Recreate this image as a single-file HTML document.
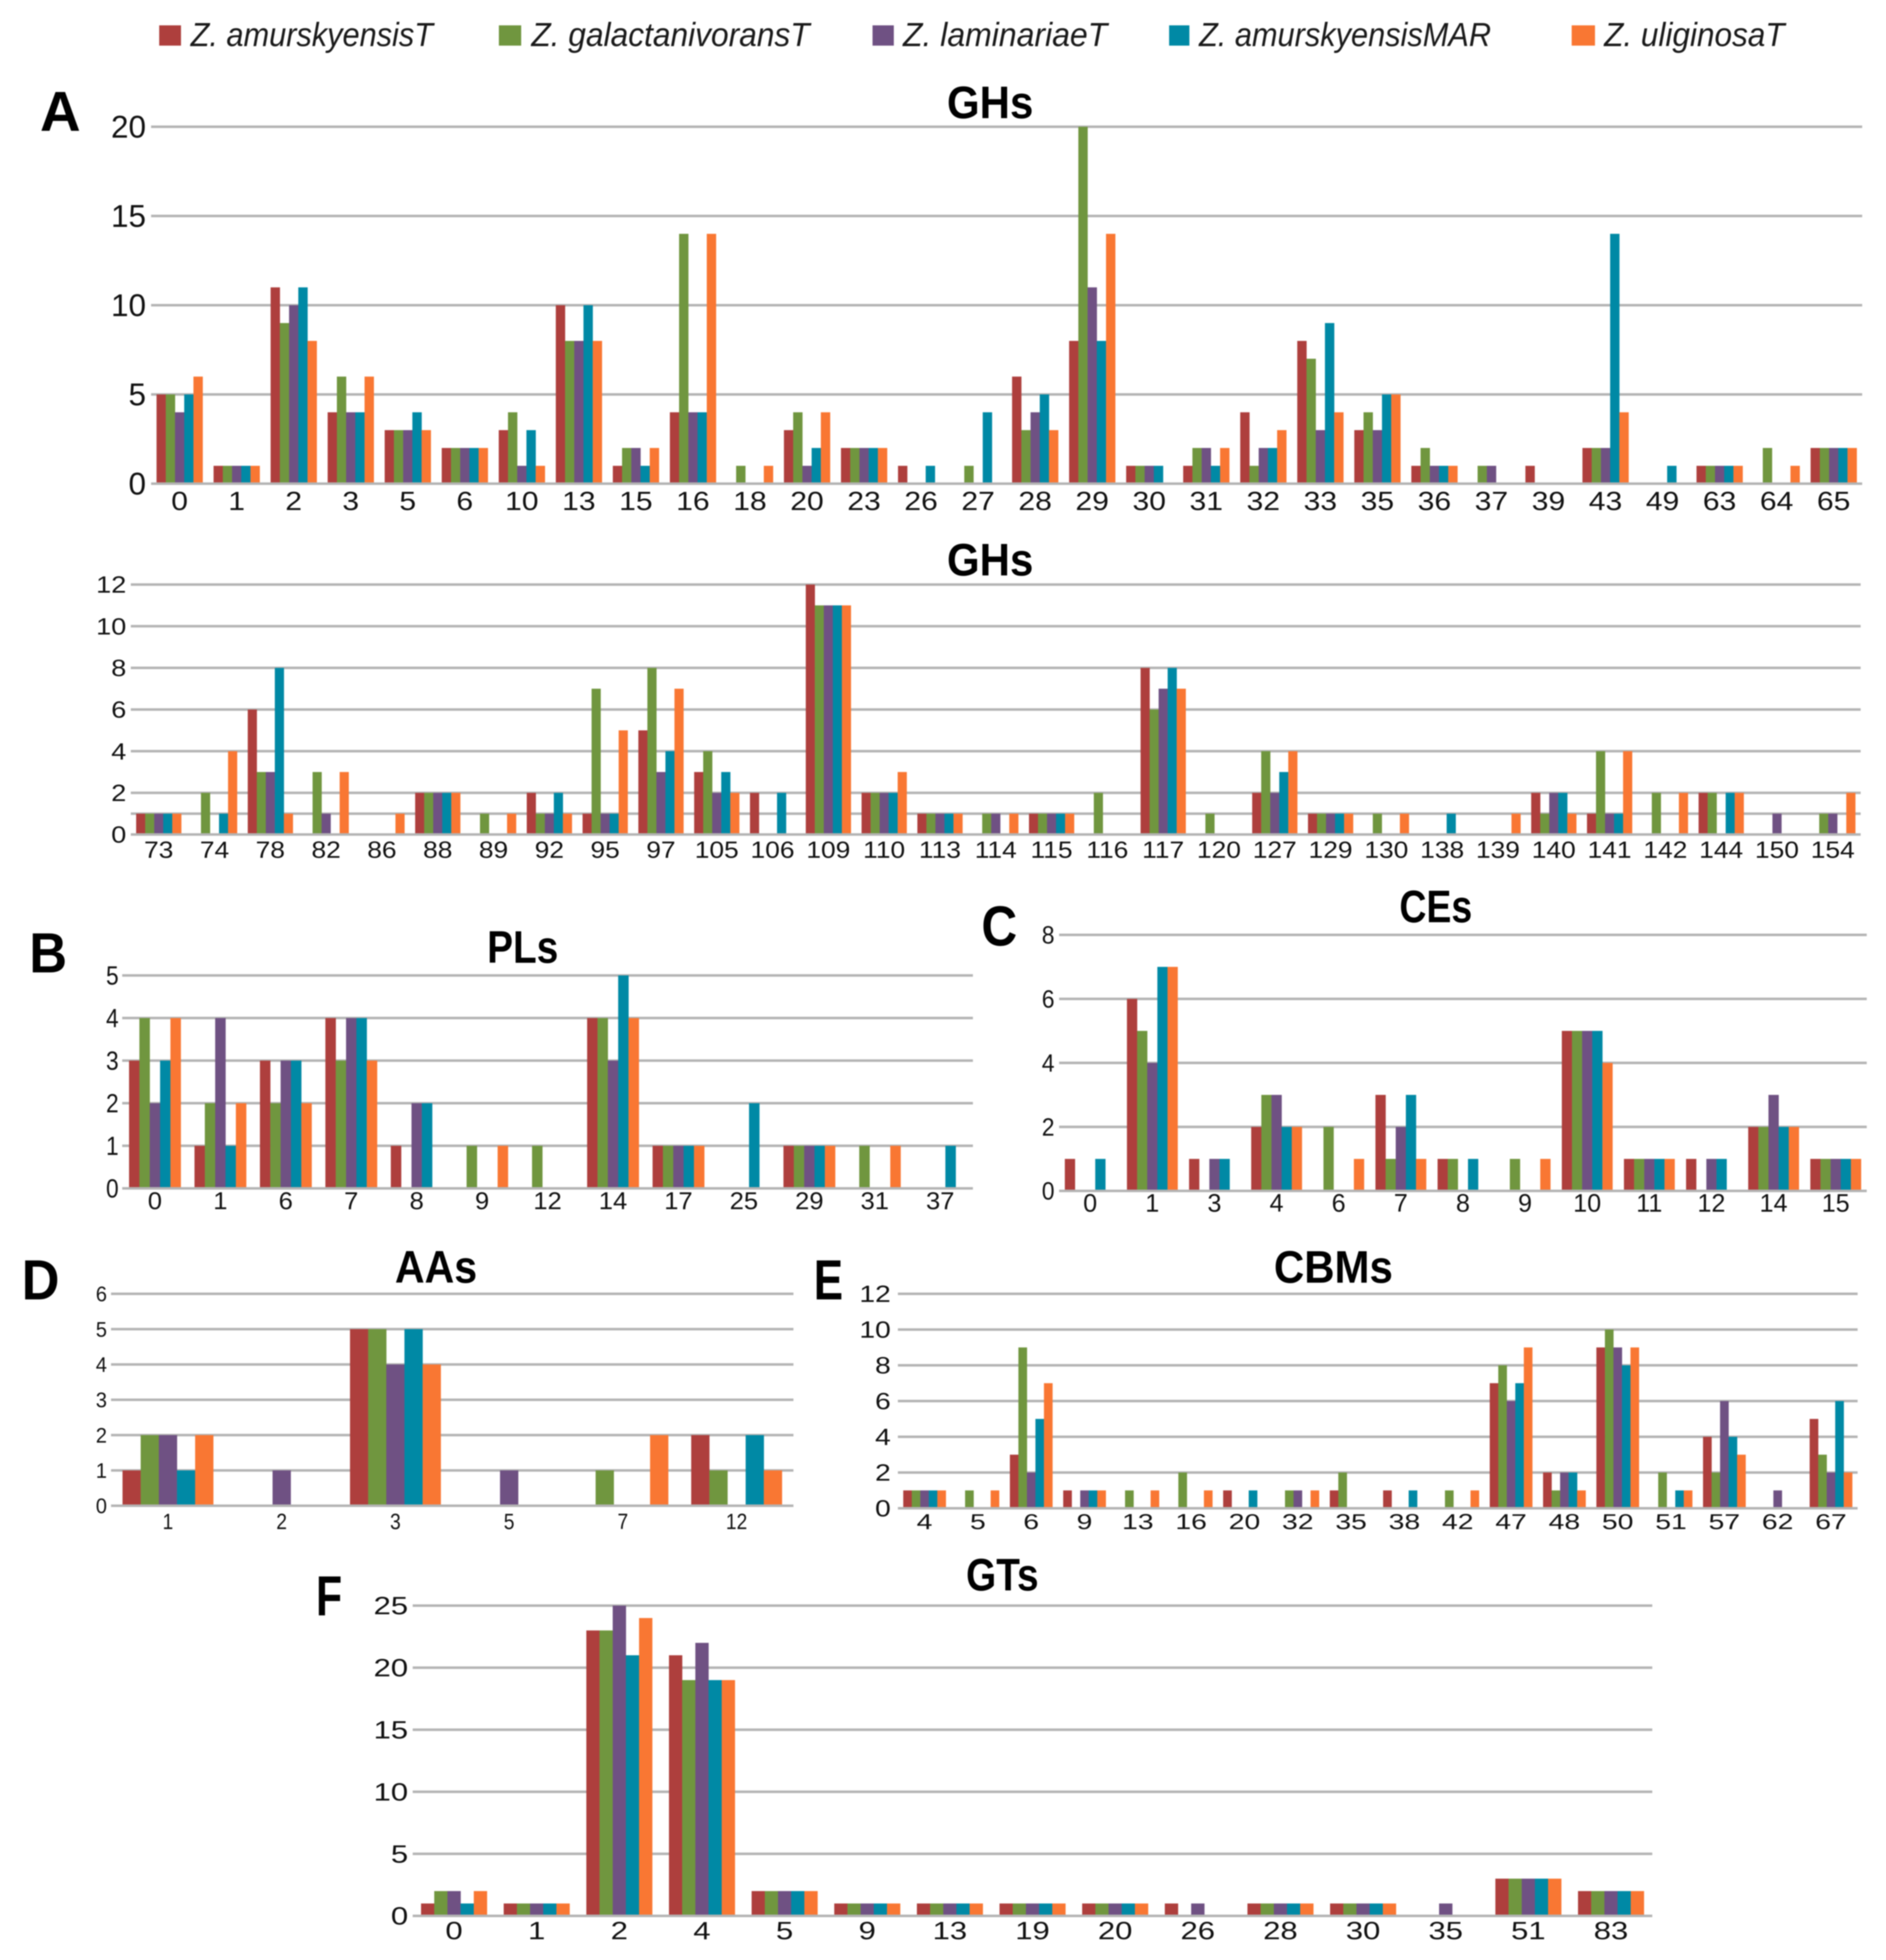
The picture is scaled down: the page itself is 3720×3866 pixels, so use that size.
<!DOCTYPE html>
<html lang="en">
<head>
<meta charset="utf-8">
<title>CAZyme family counts</title>
<style>
html,body{margin:0;padding:0;background:#fff;width:3720px;height:3866px;overflow:hidden}
svg{display:block;filter:blur(1px)}
text{font-family:"Liberation Sans",sans-serif;fill:#111}
.title,.letter{font-weight:700;fill:#000}
.leg{font-style:italic;font-size:66px;fill:#1a1a1a}
</style>
</head>
<body>
<svg id="figure" xmlns="http://www.w3.org/2000/svg" width="3720" height="3866" viewBox="0 0 3720 3866">
  <rect width="3720" height="3866" fill="#fff"/>
  <g>
    <g>
      <rect x="314" y="50" width="43" height="40" fill="#AE3F3D"/>
      <text class="leg" x="376" y="91" textLength="478" lengthAdjust="spacingAndGlyphs">Z. amurskyensisT</text>
    </g>
    <g>
      <rect x="984" y="50" width="44" height="40" fill="#70963F"/>
      <text class="leg" x="1048" y="91" textLength="549" lengthAdjust="spacingAndGlyphs">Z. galactanivoransT</text>
    </g>
    <g>
      <rect x="1721" y="50" width="42" height="40" fill="#6F5183"/>
      <text class="leg" x="1781" y="91" textLength="403" lengthAdjust="spacingAndGlyphs">Z. laminariaeT</text>
    </g>
    <g>
      <rect x="2306" y="50" width="40" height="40" fill="#0089A5"/>
      <text class="leg" x="2365" y="91" textLength="576" lengthAdjust="spacingAndGlyphs">Z. amurskyensisMAR</text>
    </g>
    <g>
      <rect x="3100" y="50" width="46" height="40" fill="#F97733"/>
      <text class="leg" x="3164" y="91" textLength="356" lengthAdjust="spacingAndGlyphs">Z. uliginosaT</text>
    </g>
  </g>

  <text class="letter" text-anchor="middle" font-size="111" transform="translate(119,258) scale(1.0,1)">A</text>
  <text class="letter" text-anchor="middle" font-size="111" transform="translate(95,1918) scale(0.93,1)">B</text>
  <text class="letter" text-anchor="middle" font-size="111" transform="translate(1971,1865) scale(0.88,1)">C</text>
  <text class="letter" text-anchor="middle" font-size="111" transform="translate(80,2563) scale(0.93,1)">D</text>
  <text class="letter" text-anchor="middle" font-size="111" transform="translate(1634,2563) scale(0.78,1)">E</text>
  <text class="letter" text-anchor="middle" font-size="111" transform="translate(649,3186) scale(0.76,1)">F</text>

  <text class="title" text-anchor="middle" font-size="90" transform="translate(1953,233) scale(0.92,1)">GHs</text>
  <text class="title" text-anchor="middle" font-size="90" transform="translate(1953,1135) scale(0.92,1)">GHs</text>
  <text class="title" text-anchor="middle" font-size="90" transform="translate(1031,1899) scale(0.85,1)">PLs</text>
  <text class="title" text-anchor="middle" font-size="90" transform="translate(2832,1819) scale(0.82,1)">CEs</text>
  <text class="title" text-anchor="middle" font-size="90" transform="translate(860,2530) scale(0.9,1)">AAs</text>
  <text class="title" text-anchor="middle" font-size="90" transform="translate(2630,2530) scale(0.92,1)">CBMs</text>
  <text class="title" text-anchor="middle" font-size="90" transform="translate(1977,3137) scale(0.85,1)">GTs</text>

  <g id="charts"></g>
</svg>

<script>
// Panel A, upper
const ghUpperCategories = ['0','1','2','3','5','6','10','13','15','16','18','20','23','26','27','28','29','30','31','32','33','35','36','37','39','43','49','63','64','65'];
const ghUpperTicks = [0,5,10,15,20];
const ghUpperAmurskyensis = [5,1,11,4,3,2,3,10,1,4,0,3,2,1,0,6,8,1,1,4,8,3,1,0,1,2,0,1,0,2];
const ghUpperGalactanivorans = [5,1,9,6,3,2,4,8,2,14,1,4,2,0,1,3,20,1,2,1,7,4,2,1,0,2,0,1,2,2];
const ghUpperLaminariae = [4,1,10,4,3,2,1,8,2,4,0,1,2,0,0,4,11,1,2,2,3,3,1,1,0,2,0,1,0,2];
const ghUpperAmurskyensisMar = [5,1,11,4,4,2,3,10,1,4,0,2,2,1,4,5,8,1,1,2,9,5,1,0,0,14,1,1,0,2];
const ghUpperUliginosa = [6,1,8,6,3,2,1,8,2,14,1,4,2,0,0,3,14,0,2,3,4,5,1,0,0,4,0,1,1,2];

// Panel A, lower
const ghLowerCategories = ['73','74','78','82','86','88','89','92','95','97','105','106','109','110','113','114','115','116','117','120','127','129','130','138','139','140','141','142','144','150','154'];
const ghLowerTicks = [0,2,4,6,8,10,12];
const ghLowerUnlabelledGrid = [1];
const ghLowerAmurskyensis = [1,0,6,0,0,2,0,2,1,5,3,2,12,2,1,0,1,0,8,0,2,1,0,0,0,2,1,0,2,0,0];
const ghLowerGalactanivorans = [1,2,3,3,0,2,1,1,7,8,4,0,11,2,1,1,1,2,6,1,4,1,1,0,0,1,4,2,2,0,1];
const ghLowerLaminariae = [1,0,3,1,0,2,0,1,1,3,2,0,11,2,1,1,1,0,7,0,2,1,0,0,0,2,1,0,0,1,1];
const ghLowerAmurskyensisMar = [1,1,8,0,0,2,0,2,1,4,3,2,11,2,1,0,1,0,8,0,3,1,0,1,0,2,1,0,2,0,0];
const ghLowerUliginosa = [1,4,1,3,1,2,1,1,5,7,2,0,11,3,1,1,1,0,7,0,4,1,1,0,1,1,4,2,2,0,2];

// Panel B
const plCategories = ['0','1','6','7','8','9','12','14','17','25','29','31','37'];
const plTicks = [0,1,2,3,4,5];
const plAmurskyensis = [3,1,3,4,1,0,0,4,1,0,1,0,0];
const plGalactanivorans = [4,2,2,3,0,1,1,4,1,0,1,1,0];
const plLaminariae = [2,4,3,4,2,0,0,3,1,0,1,0,0];
const plAmurskyensisMar = [3,1,3,4,2,0,0,5,1,2,1,0,1];
const plUliginosa = [4,2,2,3,0,1,0,4,1,0,1,1,0];

// Panel C
const ceCategories = ['0','1','3','4','6','7','8','9','10','11','12','14','15'];
const ceTicks = [0,2,4,6,8];
const ceAmurskyensis = [1,6,1,2,0,3,1,0,5,1,1,2,1];
const ceGalactanivorans = [0,5,0,3,2,1,1,1,5,1,0,2,1];
const ceLaminariae = [0,4,1,3,0,2,0,0,5,1,1,3,1];
const ceAmurskyensisMar = [1,7,1,2,0,3,1,0,5,1,1,2,1];
const ceUliginosa = [0,7,0,2,1,1,0,1,4,1,0,2,1];

// Panel D
const aaCategories = ['1','2','3','5','7','12'];
const aaTicks = [0,1,2,3,4,5,6];
const aaAmurskyensis = [1,0,5,0,0,2];
const aaGalactanivorans = [2,0,5,0,1,1];
const aaLaminariae = [2,1,4,1,0,0];
const aaAmurskyensisMar = [1,0,5,0,0,2];
const aaUliginosa = [2,0,4,0,2,1];

// Panel E
const cbmCategories = ['4','5','6','9','13','16','20','32','35','38','42','47','48','50','51','57','62','67'];
const cbmTicks = [0,2,4,6,8,10,12];
const cbmAmurskyensis = [1,0,3,1,0,0,1,0,1,1,0,7,2,9,0,4,0,5];
const cbmGalactanivorans = [1,1,9,0,1,2,0,1,2,0,1,8,1,10,2,2,0,3];
const cbmLaminariae = [1,0,2,1,0,0,0,1,0,0,0,6,2,9,0,6,1,2];
const cbmAmurskyensisMar = [1,0,5,1,0,0,1,0,0,1,0,7,2,8,1,4,0,6];
const cbmUliginosa = [1,1,7,1,1,1,0,1,0,0,1,9,1,9,1,3,0,2];

// Panel F
const gtCategories = ['0','1','2','4','5','9','13','19','20','26','28','30','35','51','83'];
const gtTicks = [0,5,10,15,20,25];
const gtAmurskyensis = [1,1,23,21,2,1,1,1,1,1,1,1,0,3,2];
const gtGalactanivorans = [2,1,23,19,2,1,1,1,1,0,1,1,0,3,2];
const gtLaminariae = [2,1,25,22,2,1,1,1,1,1,1,1,1,3,2];
const gtAmurskyensisMar = [1,1,21,19,2,1,1,1,1,0,1,1,0,3,2];
const gtUliginosa = [2,1,24,19,2,1,1,1,1,0,1,1,0,3,2];

const seriesColors = ['#AE3F3D','#70963F','#6F5183','#0089A5','#F97733'];
const seriesNames = ['amurskyensis','galactanivorans','laminariae','amurskyensis-mar','uliginosa'];

const SVG_NS = 'http://www.w3.org/2000/svg';

function drawChart(cfg) {
  const root = document.getElementById('charts');
  const chart = document.createElementNS(SVG_NS, 'g');
  
  
  root.appendChild(chart);

  const step = (cfg.right - cfg.left) / cfg.categories.length;
  const xCenter = i => cfg.left + step * (i + 0.5);
  const yScale = v => cfg.y0 - (v / cfg.max) * (cfg.y0 - cfg.yMax);
  const barW = cfg.groupWidth / cfg.series.length;

  function gridLine(v, label) {
    const ln = document.createElementNS(SVG_NS, 'rect');
    
    
    ln.setAttribute('x', cfg.left);
    ln.setAttribute('y', yScale(v) - 2.5);
    ln.setAttribute('width', cfg.right - cfg.left);
    ln.setAttribute('height', 5);
    ln.setAttribute('fill', '#B4B4B4');
    chart.appendChild(ln);
    if (label) {
      const t = document.createElementNS(SVG_NS, 'text');
      
      
      t.setAttribute('text-anchor', 'end');
      t.setAttribute('font-size', cfg.yFont);
      t.setAttribute('transform', 'translate(' + cfg.yLabelRight + ',' + (yScale(v) + cfg.yFont * 0.35) + ') scale(' + cfg.ySx + ',1)');
      t.textContent = String(v);
      chart.appendChild(t);
    }
  }

  cfg.ticks.forEach(v => { if (v !== 0) gridLine(v, true); });
  (cfg.extraGrid || []).forEach(v => gridLine(v, false));

  cfg.categories.forEach((cat, i) => {
    const groupLeft = xCenter(i) - cfg.groupWidth / 2;
    cfg.series.forEach((values, s) => {
      const v = values[i];
      if (!v) return;
      const bar = document.createElementNS(SVG_NS, 'rect');
      
      
      bar.setAttribute('x', groupLeft + s * barW);
      bar.setAttribute('y', yScale(v));
      bar.setAttribute('width', barW + 0.3);
      bar.setAttribute('height', cfg.y0 - yScale(v));
      bar.setAttribute('fill', seriesColors[s]);
      chart.appendChild(bar);
    });
    const t = document.createElementNS(SVG_NS, 'text');
    
    
    t.setAttribute('text-anchor', 'middle');
    t.setAttribute('font-size', cfg.xFont);
    t.setAttribute('transform', 'translate(' + xCenter(i) + ',' + cfg.xBaseline + ') scale(' + cfg.xSx + ',1)');
    t.textContent = cat;
    chart.appendChild(t);
  });

  gridLine(0, true);
}

drawChart({name:'ghs-upper', categories:ghUpperCategories, ticks:ghUpperTicks, max:20,
  series:[ghUpperAmurskyensis,ghUpperGalactanivorans,ghUpperLaminariae,ghUpperAmurskyensisMar,ghUpperUliginosa],
  left:298, right:3673, y0:954, yMax:250, groupWidth:91,
  yFont:62, ySx:1.0, yLabelRight:288, xFont:52, xSx:1.14, xBaseline:1006});

drawChart({name:'ghs-lower', categories:ghLowerCategories, ticks:ghLowerTicks, extraGrid:ghLowerUnlabelledGrid, max:12,
  series:[ghLowerAmurskyensis,ghLowerGalactanivorans,ghLowerLaminariae,ghLowerAmurskyensisMar,ghLowerUliginosa],
  left:258, right:3670, y0:1646, yMax:1153, groupWidth:89,
  yFont:46, ySx:1.16, yLabelRight:249, xFont:46, xSx:1.13, xBaseline:1692});

drawChart({name:'pls', categories:plCategories, ticks:plTicks, max:5,
  series:[plAmurskyensis,plGalactanivorans,plLaminariae,plAmurskyensisMar,plUliginosa],
  left:241, right:1919, y0:2344, yMax:1924, groupWidth:102,
  yFont:52, ySx:0.86, yLabelRight:234, xFont:48, xSx:1.05, xBaseline:2385});

drawChart({name:'ces', categories:ceCategories, ticks:ceTicks, max:8,
  series:[ceAmurskyensis,ceGalactanivorans,ceLaminariae,ceAmurskyensisMar,ceUliginosa],
  left:2089, right:3682, y0:2349, yMax:1844, groupWidth:100,
  yFont:49, ySx:0.92, yLabelRight:2080, xFont:50, xSx:0.99, xBaseline:2390});

drawChart({name:'aas', categories:aaCategories, ticks:aaTicks, max:6,
  series:[aaAmurskyensis,aaGalactanivorans,aaLaminariae,aaAmurskyensisMar,aaUliginosa],
  left:219, right:1565, y0:2970, yMax:2552, groupWidth:179,
  yFont:42, ySx:0.94, yLabelRight:211, xFont:44, xSx:0.86, xBaseline:3016});

drawChart({name:'cbms', categories:cbmCategories, ticks:cbmTicks, max:12,
  series:[cbmAmurskyensis,cbmGalactanivorans,cbmLaminariae,cbmAmurskyensisMar,cbmUliginosa],
  left:1771, right:3664, y0:2975, yMax:2552, groupWidth:84,
  yFont:46, ySx:1.21, yLabelRight:1757, xFont:43, xSx:1.3, xBaseline:3016});

drawChart({name:'gts', categories:gtCategories, ticks:gtTicks, max:25,
  series:[gtAmurskyensis,gtGalactanivorans,gtLaminariae,gtAmurskyensisMar,gtUliginosa],
  left:814, right:3259, y0:3779, yMax:3167, groupWidth:130,
  yFont:49, ySx:1.25, yLabelRight:805, xFont:49, xSx:1.25, xBaseline:3825});
</script>
</body>
</html>
